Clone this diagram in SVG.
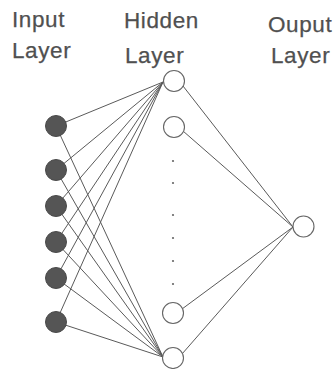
<svg xmlns="http://www.w3.org/2000/svg" width="335" height="369" viewBox="0 0 335 369">
<style>
.lbl{font-family:"Liberation Sans",Arial,sans-serif;font-size:22.5px;fill:#505050;stroke:#505050;stroke-width:0.25;letter-spacing:0.6px}
.in{fill:#555555;stroke:#4a4a4a;stroke-width:1}
.hid{fill:#ffffff;stroke:#666666;stroke-width:1.1}
.ln{stroke:#5a5a5a;stroke-width:1;fill:none}
.dot{fill:#666666}
</style>
<rect width="335" height="369" fill="#ffffff"/>
<g id="labels">
<text class="lbl" x="12" y="27">Input</text>
<text class="lbl" x="12" y="58">Layer</text>
<text class="lbl" x="124" y="28">Hidden</text>
<text class="lbl" x="125" y="63">Layer</text>
<text class="lbl" x="268" y="32">Ouput</text>
<text class="lbl" x="271" y="63">Layer</text>
</g>
<g id="connectors" class="ln">
<line x1="56" y1="126" x2="163" y2="82"/>
<line x1="56" y1="170" x2="163" y2="82"/>
<line x1="56" y1="206" x2="163" y2="82"/>
<line x1="56" y1="242" x2="163" y2="82"/>
<line x1="56" y1="278" x2="163" y2="82"/>
<line x1="56" y1="322" x2="163" y2="82"/>
<line x1="56" y1="126" x2="163" y2="357"/>
<line x1="56" y1="170" x2="163" y2="357"/>
<line x1="56" y1="206" x2="163" y2="357"/>
<line x1="56" y1="242" x2="163" y2="357"/>
<line x1="56" y1="278" x2="163" y2="357"/>
<line x1="56" y1="322" x2="163" y2="357"/>
<line x1="183" y1="86" x2="293" y2="227"/>
<line x1="183" y1="131" x2="293" y2="227"/>
<line x1="182" y1="309" x2="293" y2="227"/>
<line x1="182" y1="354" x2="293" y2="227"/>
</g>
<g id="input-nodes">
<circle id="in1" class="in" cx="56" cy="126" r="10.5"/>
<circle id="in2" class="in" cx="56" cy="170" r="10.5"/>
<circle id="in3" class="in" cx="56" cy="206" r="10.5"/>
<circle id="in4" class="in" cx="56" cy="242" r="10.5"/>
<circle id="in5" class="in" cx="56" cy="278" r="10.5"/>
<circle id="in6" class="in" cx="56" cy="322" r="10.5"/>
</g>
<g id="hidden-nodes">
<circle id="h1" class="hid" cx="174" cy="81" r="10.5"/>
<circle id="h2" class="hid" cx="174" cy="127" r="10.5"/>
<circle id="h3" class="hid" cx="173" cy="313" r="10.5"/>
<circle id="h4" class="hid" cx="173" cy="358" r="10.5"/>
</g>
<g id="ellipsis">
<circle class="dot" cx="173" cy="161" r="1.1"/>
<circle class="dot" cx="173" cy="183" r="1.1"/>
<circle class="dot" cx="173" cy="215" r="1.1"/>
<circle class="dot" cx="173" cy="238" r="1.1"/>
<circle class="dot" cx="173" cy="261" r="1.1"/>
<circle class="dot" cx="173" cy="284" r="1.1"/>
</g>
<g id="output-node">
<circle id="out1" class="hid" cx="303.5" cy="226.5" r="10.5"/>
</g>
</svg>
